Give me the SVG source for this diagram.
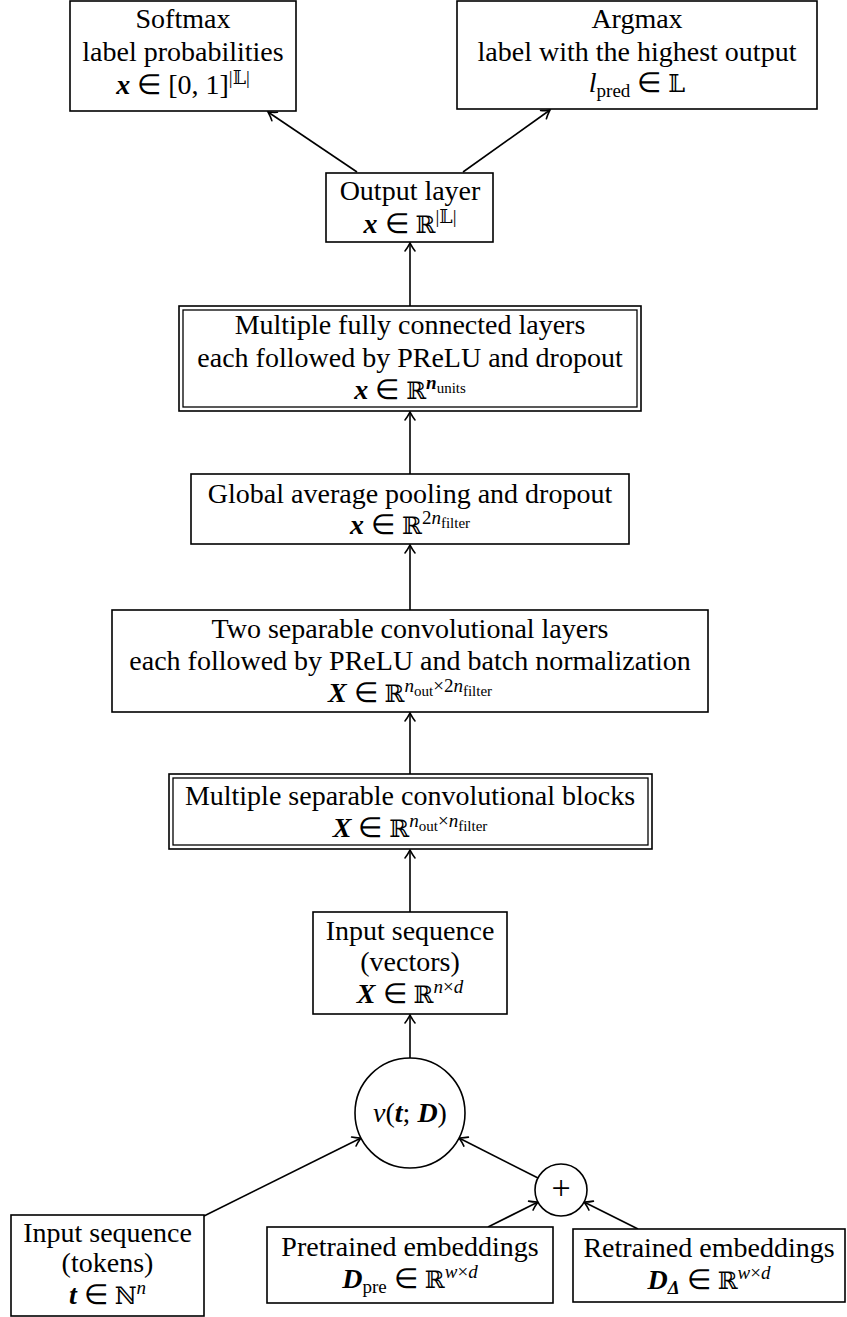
<svg xmlns="http://www.w3.org/2000/svg" width="847" height="1317" viewBox="0 0 847 1317">
<defs>
<style>
.box{fill:#fff;stroke:#000;stroke-width:1.6}
.dbl{fill:none;stroke:#000;stroke-width:1.3}
text{font-family:'Liberation Serif','Times New Roman',Times,serif;font-size:28px;text-anchor:middle;fill:#000}
.bi{font-weight:bold;font-style:italic}
.i{font-style:italic}
.ds{font-family:'DejaVu Serif','DejaVu Sans',serif;font-size:24px}
.sp{font-size:19px}
.ss{font-size:15px}
.edge{fill:none;stroke:#000;stroke-width:1.6;marker-end:url(#arr)}
</style>
<marker id="arr" markerWidth="14" markerHeight="14" refX="0" refY="0" viewBox="-9 -7 11 14" orient="auto" markerUnits="userSpaceOnUse">
<path d="M-8,-5 C-5,-2.5 -1.5,-0.8 0,0 C-1.5,0.8 -5,2.5 -8,5" fill="none" stroke="#000" stroke-width="1.6" stroke-linecap="round"/>
</marker>
</defs>
<g id="connectors">
<line class="edge" x1="357" y1="172" x2="268" y2="112"/>
<line class="edge" x1="463" y1="172" x2="550" y2="110"/>
<line class="edge" x1="410" y1="306" x2="410" y2="243"/>
<line class="edge" x1="410" y1="474" x2="410" y2="412"/>
<line class="edge" x1="410" y1="610" x2="410" y2="545"/>
<line class="edge" x1="410" y1="774" x2="410" y2="713"/>
<line class="edge" x1="410" y1="912" x2="410" y2="850"/>
<line class="edge" x1="410" y1="1058" x2="410" y2="1015"/>
<line class="edge" x1="204" y1="1216" x2="361" y2="1138"/>
<line class="edge" x1="538" y1="1178" x2="459" y2="1138"/>
<line class="edge" x1="488" y1="1227" x2="538" y2="1202"/>
<line class="edge" x1="638" y1="1229" x2="584" y2="1202"/>
</g>
<g id="softmax">
<rect class="box" x="70" y="1" width="226" height="110"/>
<text x="183" y="28">Softmax</text>
<text x="183" y="61">label probabilities</text>
<text x="183" y="94"><tspan class="bi">x</tspan> ∈ [0, 1]<tspan class="sp" dy="-10">|</tspan><tspan class="ds sp">𝕃</tspan><tspan class="sp">|</tspan></text>
</g>
<g id="argmax">
<rect class="box" x="457" y="1" width="360" height="108"/>
<text x="637" y="28">Argmax</text>
<text x="637" y="61">label with the highest output</text>
<text x="637" y="92"><tspan class="i">l</tspan><tspan class="sp" dy="5">pred</tspan><tspan dy="-5"> ∈ </tspan><tspan class="ds">𝕃</tspan></text>
</g>
<g id="output">
<rect class="box" x="326" y="173" width="167" height="69"/>
<text x="410" y="200">Output layer</text>
<text x="410" y="233"><tspan class="bi">x</tspan> ∈ <tspan class="ds">ℝ</tspan><tspan class="sp" dy="-10">|</tspan><tspan class="ds sp">𝕃</tspan><tspan class="sp">|</tspan></text>
</g>
<g id="fc">
<rect class="box" x="179" y="306" width="462" height="105"/>
<rect class="dbl" x="183" y="310" width="454" height="97"/>
<text x="410" y="334">Multiple fully connected layers</text>
<text x="410" y="367">each followed by PReLU and dropout</text>
<text x="410" y="399"><tspan class="bi">x</tspan> ∈ <tspan class="ds">ℝ</tspan><tspan class="sp bi" dy="-10">n</tspan><tspan class="ss" dy="4">units</tspan></text>
</g>
<g id="global">
<rect class="box" x="191" y="474" width="438" height="70"/>
<text x="410" y="503">Global average pooling and dropout</text>
<text x="410" y="534"><tspan class="bi">x</tspan> ∈ <tspan class="ds">ℝ</tspan><tspan class="sp" dy="-10">2</tspan><tspan class="sp i">n</tspan><tspan class="ss" dy="4">filter</tspan></text>
</g>
<g id="twosep">
<rect class="box" x="112" y="610" width="596" height="102"/>
<text x="410" y="638">Two separable convolutional layers</text>
<text x="410" y="670">each followed by PReLU and batch normalization</text>
<text x="410" y="702"><tspan class="bi">X</tspan> ∈ <tspan class="ds">ℝ</tspan><tspan class="sp i" dy="-10">n</tspan><tspan class="ss" dy="4">out</tspan><tspan class="sp" dy="-4">×2</tspan><tspan class="sp i">n</tspan><tspan class="ss" dy="4">filter</tspan></text>
</g>
<g id="multisep">
<rect class="box" x="169" y="774" width="483" height="75"/>
<rect class="dbl" x="173" y="778" width="475" height="67"/>
<text x="410" y="805">Multiple separable convolutional blocks</text>
<text x="410" y="837"><tspan class="bi">X</tspan> ∈ <tspan class="ds">ℝ</tspan><tspan class="sp i" dy="-10">n</tspan><tspan class="ss" dy="4">out</tspan><tspan class="sp" dy="-4">×</tspan><tspan class="sp i">n</tspan><tspan class="ss" dy="4">filter</tspan></text>
</g>
<g id="vectors">
<rect class="box" x="313" y="912" width="194" height="102"/>
<text x="410" y="940">Input sequence</text>
<text x="410" y="971">(vectors)</text>
<text x="410" y="1003"><tspan class="bi">X</tspan> ∈ <tspan class="ds">ℝ</tspan><tspan class="sp i" dy="-10">n</tspan><tspan class="sp">×</tspan><tspan class="sp i">d</tspan></text>
</g>
<g id="embed">
<circle class="box" cx="410" cy="1113" r="55"/>
<text x="410" y="1122"><tspan class="i">v</tspan>(<tspan class="bi">t</tspan>; <tspan class="bi">D</tspan>)</text>
</g>
<g id="plus">
<circle class="box" cx="561" cy="1190" r="26"/>
<text x="561" y="1199" style="font-size:34px">+</text>
</g>
<g id="tokens">
<rect class="box" x="11" y="1215" width="193" height="101"/>
<text x="107.5" y="1242">Input sequence</text>
<text x="107.5" y="1272">(tokens)</text>
<text x="107.5" y="1304"><tspan class="bi">t</tspan> ∈ <tspan class="ds">ℕ</tspan><tspan class="sp i" dy="-10">n</tspan></text>
</g>
<g id="pretrained">
<rect class="box" x="267" y="1227" width="286" height="76"/>
<text x="410" y="1256">Pretrained embeddings</text>
<text x="410" y="1288"><tspan class="bi">D</tspan><tspan class="sp" dy="5">pre</tspan><tspan dy="-5"> ∈ </tspan><tspan class="ds">ℝ</tspan><tspan class="sp i" dy="-10">w</tspan><tspan class="sp">×</tspan><tspan class="sp i">d</tspan></text>
</g>
<g id="retrained">
<rect class="box" x="573" y="1229" width="272" height="73"/>
<text x="709" y="1257">Retrained embeddings</text>
<text x="709" y="1289"><tspan class="bi">D</tspan><tspan class="sp bi" dy="5">Δ</tspan><tspan dy="-5"> ∈ </tspan><tspan class="ds">ℝ</tspan><tspan class="sp i" dy="-10">w</tspan><tspan class="sp">×</tspan><tspan class="sp i">d</tspan></text>
</g>
</svg>
